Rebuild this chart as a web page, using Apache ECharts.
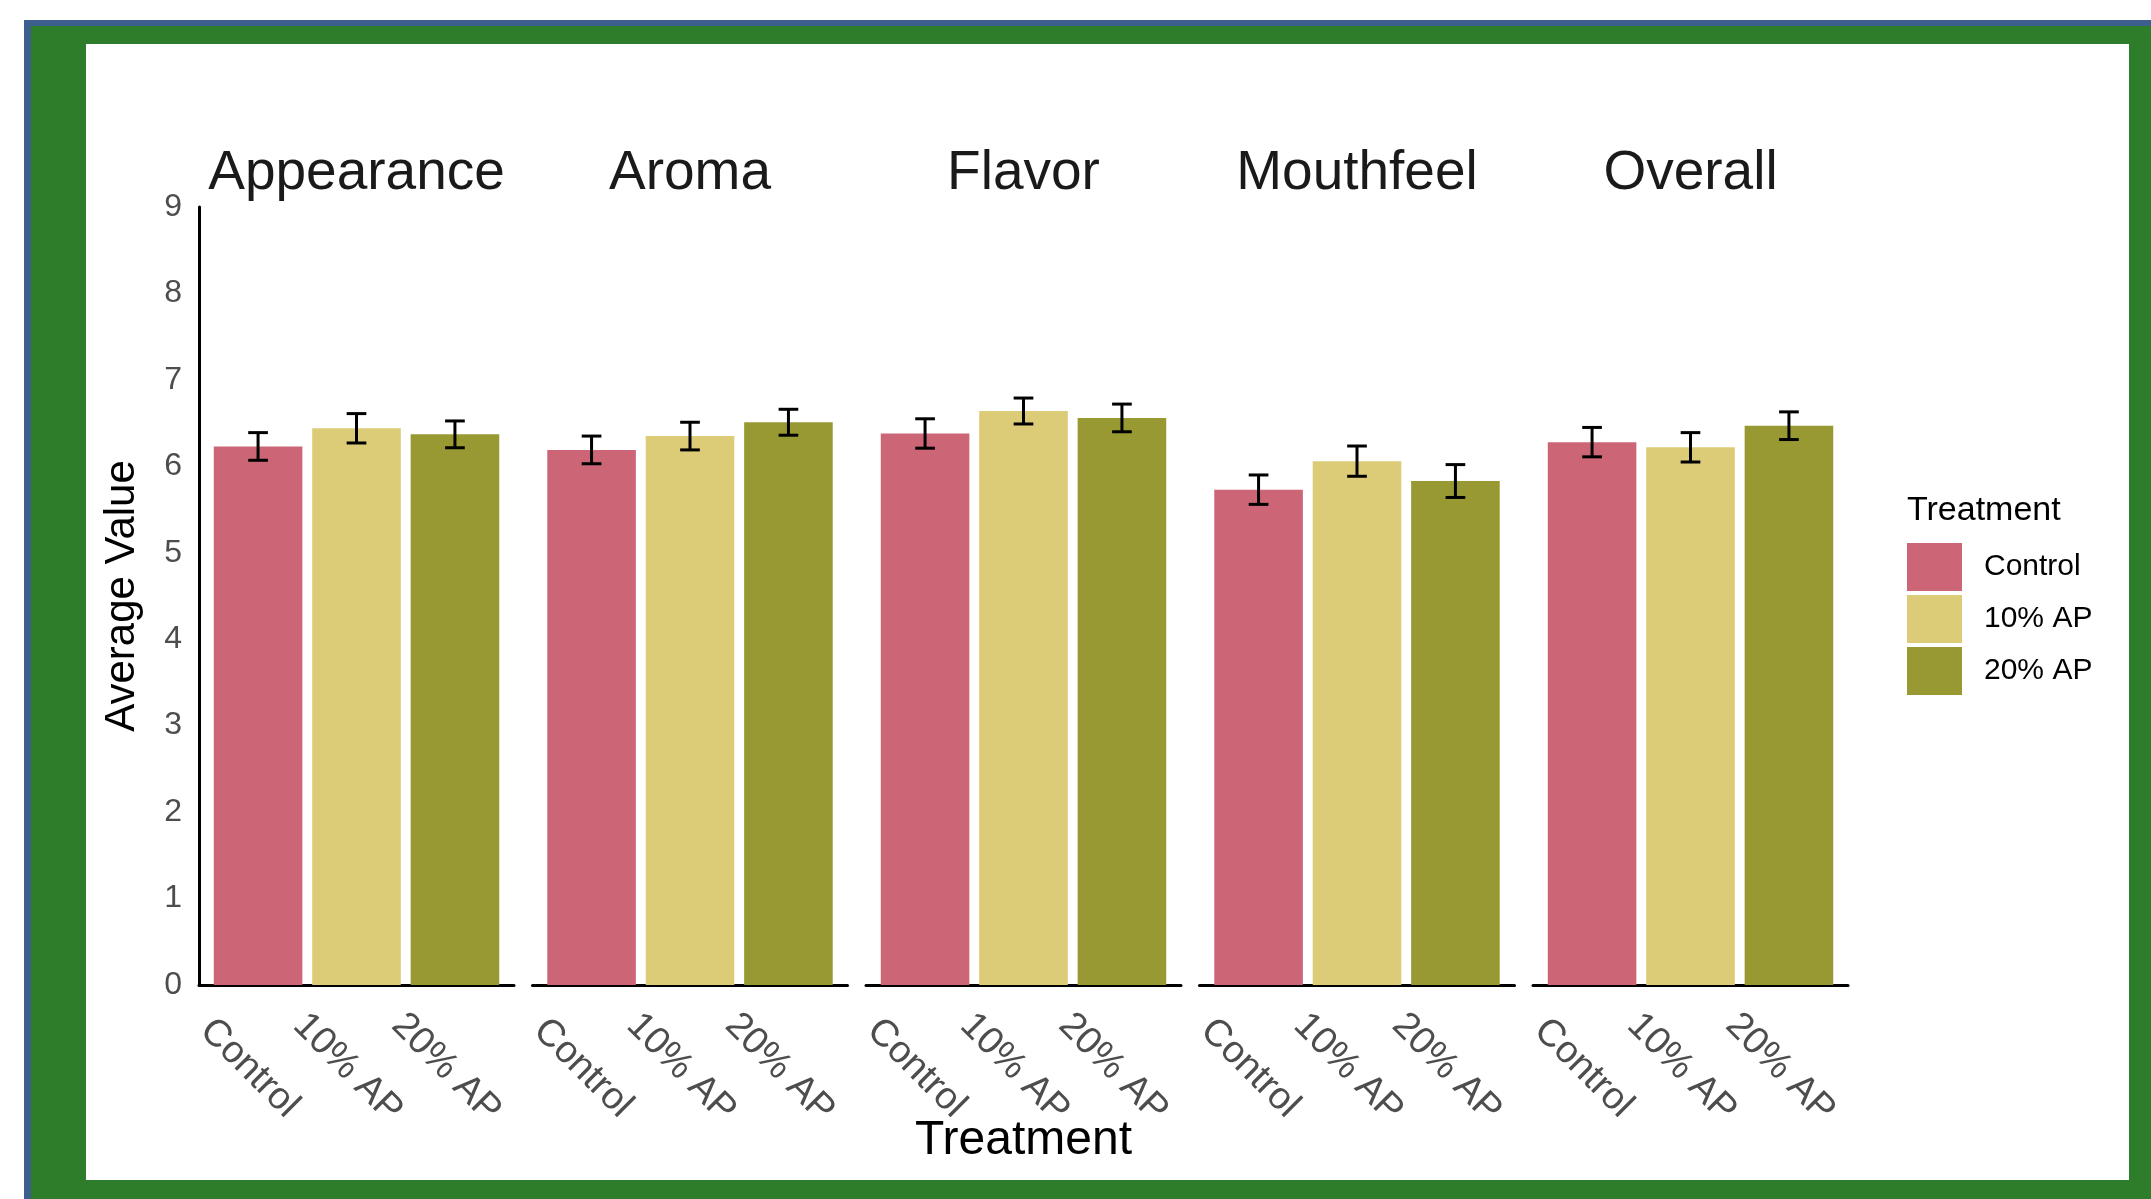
<!DOCTYPE html>
<html>
<head>
<meta charset="utf-8">
<title>Sensory scores by treatment</title>
<script src="https://cdn.jsdelivr.net/npm/echarts@6/dist/echarts.min.js"></script>
<style>
  html, body { margin: 0; padding: 0; background: #fff; }
  body { width: 2151px; height: 1199px; position: relative; overflow: hidden; }
  .frame {
    position: absolute; left: 24px; top: 20px; right: 0; bottom: 0;
    background: #2e7d2a;
    border-top: 6px solid #3c5f8d; border-left: 7px solid #3c5f8d;
    box-sizing: border-box;
  }
  .sheet { position: absolute; left: 86px; top: 44px; width: 2043px; height: 1136px; background: #fff; }
  #chart { position: absolute; left: 0; top: 0; width: 2151px; height: 1199px; }
</style>
</head>
<body>
<div class="frame"></div>
<div class="sheet"></div>
<div id="chart"></div>
<script>
// facets and groups
const attributes = ['Appearance', 'Aroma', 'Flavor', 'Mouthfeel', 'Overall'];
const treatments = ['Control', '10% AP', '20% AP'];

// mean scores per attribute (same order as attributes)
const controlMean = [6.23, 6.19, 6.38, 5.73, 6.28];
const ap10Mean    = [6.44, 6.35, 6.64, 6.06, 6.22];
const ap20Mean    = [6.37, 6.51, 6.56, 5.83, 6.47];

// error bar half widths
const controlErr = [0.16, 0.16, 0.17, 0.17, 0.17];
const ap10Err    = [0.17, 0.16, 0.15, 0.175, 0.17];
const ap20Err    = [0.155, 0.15, 0.16, 0.19, 0.16];

const yTicks = [0, 1, 2, 3, 4, 5, 6, 7, 8, 9];

const means = [controlMean, ap10Mean, ap20Mean];
const errs = [controlErr, ap10Err, ap20Err];
const colors = ['#CC6677', '#DDCC77', '#999933'];
const font = '"Liberation Sans", Arial, sans-serif';

// layout: one grid per facet
const panelLeft0 = 199;
const panelStep = 333.5;
const panelWidth = 315;
const plotTop = 207;
const plotBottom = 214;
const xMin = 0.4, xMax = 3.6;   // ggplot style discrete expansion
const unitPx = panelWidth / (xMax - xMin);
const xPos = treatments.map((t, k) => k + 1);

const chart = echarts.init(document.getElementById('chart'));

const grids = [], xAxes = [], yAxes = [], series = [], titles = [];

attributes.forEach((attr, i) => {
    const left = panelLeft0 + i * panelStep;
    grids.push({ left: left, top: plotTop, width: panelWidth, bottom: plotBottom, containLabel: false, outerBoundsMode: 'none' });

    xAxes.push({
        type: 'value',
        gridIndex: i,
        min: xMin,
        max: xMax,
        axisLine: { show: true, onZero: false, lineStyle: { color: '#000', width: 3 } },
        axisTick: { show: false },
        splitLine: { show: false },
        axisLabel: {
            customValues: xPos,
            formatter: v => treatments[Math.round(v) - 1],
            rotate: -45,
            align: 'center',
            verticalAlign: 'middle',
            margin: 92,
            padding: [25, 25, 0, 0],
            fontSize: 38,
            fontFamily: font,
            color: '#4d4d4d'
        }
    });

    const first = i === 0;
    yAxes.push({
        type: 'value',
        gridIndex: i,
        min: yTicks[0],
        max: yTicks[yTicks.length - 1],
        interval: 1,
        axisLine: { show: first, lineStyle: { color: '#000', width: 3 } },
        axisTick: { show: false },
        splitLine: { show: false },
        axisLabel: { show: first, fontSize: 32, fontFamily: font, color: '#4d4d4d', margin: 17 },
        name: first ? 'Average Value' : '',
        nameLocation: 'middle',
        nameGap: 56,
        nameTextStyle: { fontSize: 42, fontFamily: font, color: '#000' }
    });

    treatments.forEach((t, k) => {
        series.push({
            name: t,
            type: 'bar',
            xAxisIndex: i,
            yAxisIndex: i,
            barWidth: 0.9 * unitPx,
            barGap: '-100%',
            itemStyle: { color: colors[k] },
            silent: true,
            data: [[xPos[k], means[k][i]]]
        });
    });

    series.push({
        type: 'custom',
        xAxisIndex: i,
        yAxisIndex: i,
        silent: true,
        z: 10,
        encode: { x: 0, y: [1, 2] },
        data: treatments.map((t, k) => [xPos[k], means[k][i] - errs[k][i], means[k][i] + errs[k][i]]),
        renderItem: (params, api) => {
            const lo = api.coord([api.value(0), api.value(1)]);
            const hi = api.coord([api.value(0), api.value(2)]);
            const half = api.size([0.2, 0])[0] / 2;
            const style = { stroke: '#000', lineWidth: 3 };
            return {
                type: 'group',
                children: [
                    { type: 'line', shape: { x1: lo[0], y1: lo[1], x2: hi[0], y2: hi[1] }, style: style },
                    { type: 'line', shape: { x1: lo[0] - half, y1: hi[1], x2: lo[0] + half, y2: hi[1] }, style: style },
                    { type: 'line', shape: { x1: lo[0] - half, y1: lo[1], x2: lo[0] + half, y2: lo[1] }, style: style }
                ]
            };
        }
    });

    titles.push({
        text: attr,
        left: left + panelWidth / 2,
        top: 146,
        textAlign: 'center',
        padding: 0,
        textStyle: { fontSize: 55, fontWeight: 'normal', fontFamily: font, color: '#1a1a1a' }
    });
});

titles.push({
    text: 'Treatment',
    left: panelLeft0 + (4 * panelStep + panelWidth) / 2,
    top: 1117,
    textAlign: 'center',
    padding: 0,
    textStyle: { fontSize: 48, fontWeight: 'normal', fontFamily: font, color: '#000' }
});

titles.push({
    text: 'Treatment',
    left: 1907,
    top: 494,
    padding: 0,
    textStyle: { fontSize: 34, fontWeight: 'normal', fontFamily: font, color: '#000' }
});

const option = {
    animation: false,
    backgroundColor: 'transparent',
    title: titles,
    grid: grids,
    xAxis: xAxes,
    yAxis: yAxes,
    legend: {
        data: treatments,
        orient: 'vertical',
        left: 1907,
        top: 543,
        padding: 0,
        icon: 'rect',
        itemWidth: 55,
        itemHeight: 48,
        itemGap: 4,
        selectedMode: false,
        textStyle: { fontSize: 30, fontFamily: font, color: '#000', padding: [4, 0, 0, 17] }
    },
    series: series
};

chart.setOption(option);
</script>
</body>
</html>
